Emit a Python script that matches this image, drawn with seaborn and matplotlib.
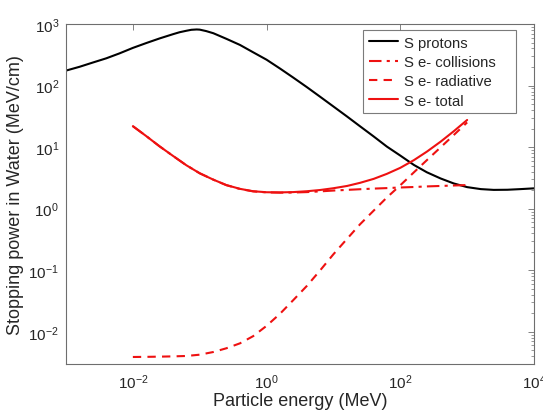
import numpy as np
import pandas as pd
import matplotlib
matplotlib.use("Agg")
import matplotlib.pyplot as plt
import seaborn as sns
from matplotlib.ticker import LogLocator, NullLocator, FixedLocator, NullFormatter, LogFormatterSciNotation

# ---------------- data ----------------
proton_energy = [0.001, 0.0016, 0.0025, 0.004, 0.0063, 0.01, 0.016, 0.025, 0.04, 0.05, 0.063,
                 0.075, 0.09, 0.1, 0.125, 0.16, 0.25, 0.4, 0.63, 1, 1.6, 2.5, 4, 6.3, 10, 16, 25,
                 40, 63, 100, 160, 250, 400, 630, 1000, 1600, 2500, 4000, 6300, 10000]
proton_stopping = [175, 202, 236, 277, 333, 409, 492, 582, 684, 735, 776,
                   805, 815, 810, 767, 708, 575, 457, 347, 263, 188, 135, 94.4, 66, 45.7, 31.4, 21.8,
                   14.9, 10.2, 7.29, 5.13, 3.9, 3.1, 2.57, 2.24, 2.08, 2.02, 2.03, 2.08, 2.14]

electron_energy = [0.01, 0.016, 0.025, 0.04, 0.063, 0.1, 0.16, 0.25, 0.4, 0.63, 1, 1.6, 2.5,
                   4, 6.3, 10, 16, 25, 40, 63, 100, 160, 250, 400, 630, 1000]
electron_collision = [21.9, 15.0, 10.33, 7.18, 5.08, 3.76, 2.96, 2.41, 2.09, 1.91, 1.84, 1.82, 1.83,
                      1.86, 1.91, 1.97, 2.02, 2.07, 2.12, 2.16, 2.21, 2.25, 2.30, 2.34, 2.38, 2.42]
electron_radiative = [0.00390, 0.00392, 0.00395, 0.00399, 0.00405, 0.00425, 0.0047, 0.0054, 0.0065,
                      0.0085, 0.0125, 0.0198, 0.0326, 0.0556, 0.0989, 0.182, 0.324, 0.558, 0.93,
                      1.52, 2.40, 3.90, 6.15, 9.90, 15.7, 25.2]
electron_total = [21.9, 15.0, 10.33, 7.18, 5.08, 3.76, 2.96, 2.42, 2.10, 1.92, 1.85, 1.84, 1.86,
                  1.92, 2.01, 2.15, 2.34, 2.63, 3.05, 3.68, 4.61, 6.15, 8.45, 12.24, 18.1, 27.6]

x_ticks = [1e-2, 1e0, 1e2, 1e4]
legend_labels = ["S protons", "S e- collisions", "S e- radiative", "S e- total"]
x_label = "Particle energy (MeV)"
y_label = "Stopping power in Water (MeV/cm)"

# ---------------- style ----------------
sns.set_style("white")
plt.rcParams["font.family"] = ["Liberation Sans", "DejaVu Sans"]
plt.rcParams["mathtext.fontset"] = "custom"
plt.rcParams["mathtext.rm"] = "Liberation Sans"
plt.rcParams["mathtext.default"] = "regular"
plt.rcParams["axes.unicode_minus"] = False

text_color = "#262626"
axis_color = "#6e6e6e"

fig = plt.figure(figsize=(5.43, 4.14), dpi=100)
ax = fig.add_axes([66 / 543, 49 / 414, 468 / 543, 340 / 414])

df_p = pd.DataFrame({"E": proton_energy, "S": proton_stopping})
df_e = pd.DataFrame({"E": electron_energy, "coll": electron_collision,
                     "rad": electron_radiative, "tot": electron_total})

lw = 1.5
red = "#ee1111"
sns.lineplot(data=df_p, x="E", y="S", ax=ax, color="black", lw=lw, label=legend_labels[0])
sns.lineplot(data=df_e, x="E", y="coll", ax=ax, color=red, lw=lw, label=legend_labels[1])
sns.lineplot(data=df_e, x="E", y="rad", ax=ax, color=red, lw=lw, label=legend_labels[2])
sns.lineplot(data=df_e, x="E", y="tot", ax=ax, color=red, lw=lw, label=legend_labels[3])

lines = ax.get_lines()
lines[1].set_dashes([6, 2.5, 1.5, 2.5])
lines[2].set_dashes([4, 3])

ax.set_xscale("log")
ax.set_yscale("log")
ax.set_xlim(1e-3, 1e4)
ax.set_ylim(3e-3, 1e3)

ax.xaxis.set_major_locator(FixedLocator(x_ticks))
ax.xaxis.set_major_formatter(LogFormatterSciNotation())
ax.xaxis.set_minor_locator(NullLocator())
ax.yaxis.set_major_locator(LogLocator(base=10.0, numticks=10))
ax.yaxis.set_minor_locator(LogLocator(base=10.0, subs=np.arange(2, 10), numticks=20))
ax.yaxis.set_minor_formatter(NullFormatter())

ax.tick_params(axis="both", which="both", direction="in", top=True, right=True,
               colors=axis_color, labelcolor=text_color, labelsize=11)
ax.tick_params(axis="both", which="major", length=4.5, width=0.6)
ax.tick_params(axis="both", which="minor", length=2.5, width=0.5)
ax.tick_params(axis="x", pad=6)
ax.tick_params(axis="y", pad=5)
for s in ax.spines.values():
    s.set_visible(True)
    s.set_color(axis_color)
    s.set_linewidth(0.8)

ax.set_xlabel(x_label, fontsize=13, color=text_color, labelpad=1)
ax.set_ylabel(y_label, fontsize=13, color=text_color, labelpad=3)

leg = ax.legend(loc="upper left", bbox_to_anchor=(0.6346, 0.5, 0.3269, 0.4824), mode="expand",
                borderaxespad=0, fontsize=10.7, frameon=True, fancybox=False, edgecolor="#5a5a5a",
                handlelength=2.0, handletextpad=0.4, labelspacing=0.36, borderpad=0.38)
leg.get_frame().set_linewidth(0.8)
for t in leg.get_texts():
    t.set_color(text_color)

fig.savefig("out.png", dpi=100)
